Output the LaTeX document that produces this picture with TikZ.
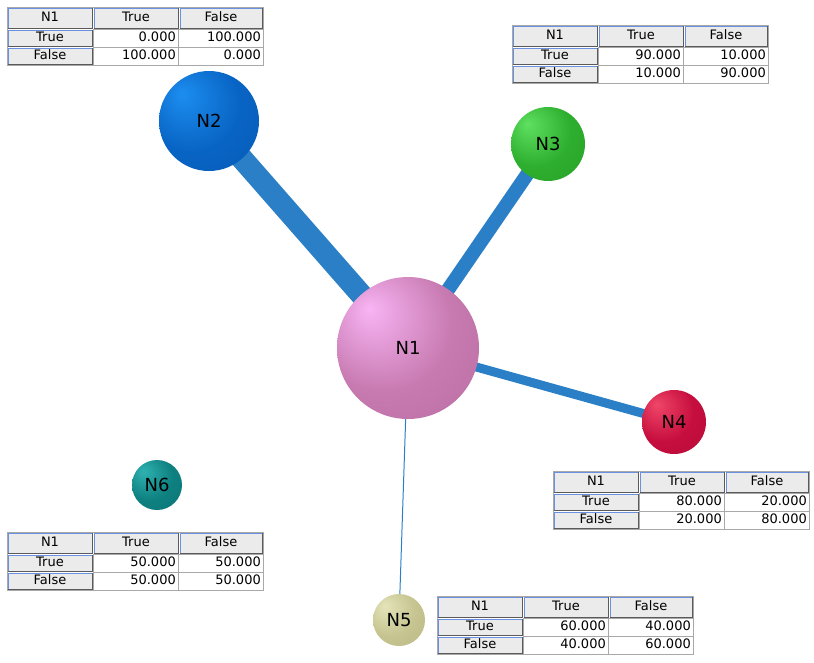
\documentclass[tikz,border=0pt]{standalone}
\usepackage{fontspec}
\setmainfont{DejaVu Sans}
\usetikzlibrary{backgrounds}
\definecolor{edgec}{HTML}{2A7FC6}
\definecolor{hdrfill}{HTML}{EBEBEB}
\definecolor{hdrblue}{HTML}{6A90E0}
\definecolor{hdrdark}{HTML}{5A5A5A}
\definecolor{gridc}{HTML}{A8A8A8}
\definecolor{nal}{HTML}{F8B4F4}\definecolor{nab}{HTML}{C77AB0}\definecolor{nad}{HTML}{8E4A78}
\definecolor{nbl}{HTML}{1C8EF0}\definecolor{nbb}{HTML}{0864C4}\definecolor{nbd}{HTML}{03428A}
\definecolor{ncl}{HTML}{60E060}\definecolor{ncb}{HTML}{2EAE2E}\definecolor{ncd}{HTML}{167C16}
\definecolor{ndl}{HTML}{F04668}\definecolor{ndb}{HTML}{C60E3E}\definecolor{ndd}{HTML}{8A0626}
\definecolor{nel}{HTML}{E4E4BA}\definecolor{neb}{HTML}{C6C490}\definecolor{ned}{HTML}{969262}
\definecolor{nfl}{HTML}{30B2B2}\definecolor{nfb}{HTML}{0E8080}\definecolor{nfd}{HTML}{065050}
\pgfdeclareradialshading{shA}{\pgfpoint{-14bp}{14bp}}{color(0bp)=(nal); color(24bp)=(nab); color(44bp)=(nab!75!nad); color(62bp)=(nad)}
\pgfdeclareradialshading{shB}{\pgfpoint{-14bp}{14bp}}{color(0bp)=(nbl); color(24bp)=(nbb); color(44bp)=(nbb!75!nbd); color(62bp)=(nbd)}
\pgfdeclareradialshading{shC}{\pgfpoint{-14bp}{14bp}}{color(0bp)=(ncl); color(24bp)=(ncb); color(44bp)=(ncb!75!ncd); color(62bp)=(ncd)}
\pgfdeclareradialshading{shD}{\pgfpoint{-14bp}{14bp}}{color(0bp)=(ndl); color(24bp)=(ndb); color(44bp)=(ndb!75!ndd); color(62bp)=(ndd)}
\pgfdeclareradialshading{shE}{\pgfpoint{-14bp}{14bp}}{color(0bp)=(nel); color(24bp)=(neb); color(44bp)=(neb!75!ned); color(62bp)=(ned)}
\pgfdeclareradialshading{shF}{\pgfpoint{-14bp}{14bp}}{color(0bp)=(nfl); color(24bp)=(nfb); color(44bp)=(nfb!75!nfd); color(62bp)=(nfd)}
\newcounter{cc}
\newcommand\hcell[5]{%
 \fill[hdrfill] (#1,#2) rectangle (#3,#4);
 \draw[hdrdark,line width=1pt] (#1,#4) -- (#3,#4) -- (#3,#2);
 \draw[hdrblue,line width=1pt] (#1,#4) -- (#1,#2) -- (#3,#2);
 \stepcounter{cc}\node[celltxt] (c\arabic{cc}) at ({(#1+#3)/2},{(#2+#4)/2}) {#5};}
\newcommand\dcell[5]{%
 \fill[white] (#1,#2) rectangle (#3,#4);
 \draw[gridc,line width=0.8pt] (#1,#2) rectangle (#3,#4);
 \stepcounter{cc}\node[celltxt,anchor=east] (c\arabic{cc}) at ({#3-2},{(#2+#4)/2}) {#5};}
\newcommand\cpt[6]{%
\begin{scope}[shift={(#1,#2)}]
 \fill[white] (0,0) rectangle (256,58);
 \hcell{1}{1}{85}{21}{N1}\hcell{87}{1}{171}{21}{True}\hcell{173}{1}{255}{21}{False}
 \hcell{1}{23}{85}{39}{True}\dcell{86}{22}{171}{40}{#3}\dcell{171}{22}{256}{40}{#4}
 \hcell{1}{41}{85}{57}{False}\dcell{86}{40}{171}{58}{#5}\dcell{171}{40}{256}{58}{#6}
 \draw[gridc,line width=0.8pt] (0,0) rectangle (256,58);
\end{scope}}
\begin{document}
\begin{tikzpicture}[x=1pt,y=-1pt,
  celltxt/.style={inner sep=0pt,text height=9.5pt,text depth=2.5pt,font=\fontsize{13}{15}\selectfont},
  ballnode/.style={circle,inner sep=0pt,font=\fontsize{18}{20}\selectfont},
  edge/.style={draw=edgec}]
\useasboundingbox (0,0) rectangle (814,662);
\node[ballnode,minimum size=142pt,shading=shA] (n1) at (408,348) {N1};
\node[ballnode,minimum size=100pt,shading=shB] (n2) at (209,121) {N2};
\node[ballnode,minimum size=74pt,shading=shC] (n3) at (548,144) {N3};
\node[ballnode,minimum size=64pt,shading=shD] (n4) at (674,422) {N4};
\node[ballnode,minimum size=52pt,shading=shE] (n5) at (399,620) {N5};
\node[ballnode,minimum size=50pt,shading=shF] (n6) at (157,485) {N6};
\begin{scope}[on background layer]
\draw[edge,line width=22pt] (n1.center) -- (n2.center);
\draw[edge,line width=14pt] (n1.center) -- (n3.center);
\draw[edge,line width=9pt] (n1.center) -- (n4.center);
\draw[edge,line width=1pt] (n1.center) -- (n5.center);
\end{scope}
\cpt{7}{7}{0.000}{100.000}{100.000}{0.000}
\cpt{512}{25}{90.000}{10.000}{10.000}{90.000}
\cpt{553}{471}{80.000}{20.000}{20.000}{80.000}
\cpt{7}{532}{50.000}{50.000}{50.000}{50.000}
\cpt{437}{596}{60.000}{40.000}{40.000}{60.000}
\end{tikzpicture}
\end{document}
